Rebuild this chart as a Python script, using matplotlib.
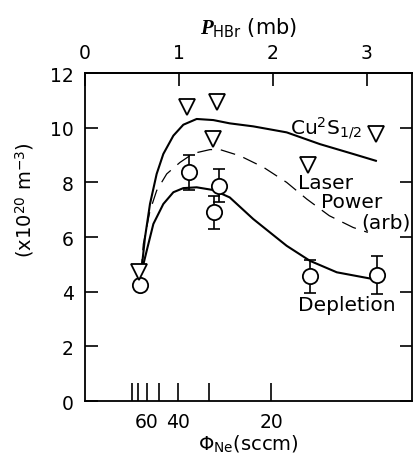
import numpy as np
import matplotlib
matplotlib.use("Agg")
import matplotlib.pyplot as plt

plt.rcParams.update({
    "font.family": "DejaVu Sans",
    "font.size": 13.5,
    "mathtext.fontset": "custom",
    "mathtext.rm": "DejaVu Sans",
    "mathtext.it": "Liberation Serif:italic:bold",
    "mathtext.bf": "DejaVu Sans:bold",
    "axes.linewidth": 1.3,
})

# ---- data (x in P_HBr, mb) ----
P_tri = [0.574, 1.088, 1.407, 1.365, 2.376, 3.10]
y_tri = [4.73, 10.75, 10.95, 9.59, 8.62, 9.78]

P_circ = [0.585, 1.106, 1.426, 1.372, 2.394, 3.103]
y_circ = [4.24, 8.37, 7.88, 6.90, 4.56, 4.61]
y_err = [0.0, 0.65, 0.60, 0.60, 0.60, 0.68]

P_cu = [0.596, 0.638, 0.691, 0.762, 0.833, 0.94, 1.046, 1.188, 1.365, 1.54,
        1.79, 2.146, 2.50, 2.854, 3.096]
y_cu = [4.65, 5.99, 7.21, 8.31, 9.04, 9.71, 10.11, 10.32, 10.28, 10.16,
        10.05, 9.83, 9.40, 9.04, 8.79]

P_laser = [0.596, 0.62, 0.691, 0.762, 0.869, 1.01, 1.152, 1.33, 1.436, 1.65,
           1.90, 2.146, 2.36, 2.60, 2.854, 3.01]
y_laser = [4.65, 5.74, 6.96, 7.70, 8.31, 8.73, 9.06, 9.20, 9.20, 8.97,
           8.55, 8.00, 7.39, 6.78, 6.35, 6.17]

P_depl = [0.596, 0.656, 0.727, 0.833, 0.94, 1.046, 1.188, 1.365, 1.54, 1.79,
          2.146, 2.394, 2.68, 3.07]
y_depl = [4.65, 5.50, 6.48, 7.21, 7.64, 7.79, 7.82, 7.72, 7.45, 6.66,
          5.68, 5.13, 4.71, 4.46]

# Ne flow axis: P_HBr = K / phi
K_FLOW = 39.6
phi_ticks = [80, 70, 60, 50, 40, 30, 20]
phi_labels = ["", "", "60", "", "40", "", "20"]

top_ticks = [0, 1, 2, 3]
y_ticks = [0, 2, 4, 6, 8, 10, 12]

fig = plt.figure(figsize=(4.13, 4.60), dpi=100)
ax = fig.add_axes([0.206, 0.126, 0.7915, 0.713])

ax.plot(P_cu, y_cu, "-", color="black", lw=1.5, zorder=2)
ax.plot(P_laser, y_laser, "--", color="black", lw=0.9, dashes=(12, 7), zorder=2)
ax.plot(P_depl, y_depl, "-", color="black", lw=1.5, zorder=2)

mask = np.array(y_err) > 0
ax.errorbar(np.array(P_circ)[mask], np.array(y_circ)[mask],
            yerr=np.array(y_err)[mask], fmt="none", ecolor="black",
            elinewidth=1.2, capsize=4, capthick=1.2, zorder=3)
ax.plot(P_circ, y_circ, "o", ms=11, mfc="white", mec="black", mew=1.3,
        zorder=4)
ax.plot(P_tri, y_tri, "v", ms=11, mfc="white", mec="black", mew=1.3,
        zorder=4)

fs_note = 14.5
ax.text(2.18, 10.04, r"Cu$^{2}$S$_{1/2}$", ha="left", va="center", fontsize=fs_note)
ax.text(2.27, 8.0, "Laser", ha="left", va="center", fontsize=fs_note)
ax.text(2.51, 7.3, "Power", ha="left", va="center", fontsize=fs_note)
ax.text(2.94, 6.55, "(arb)", ha="left", va="center", fontsize=fs_note)
ax.text(2.27, 3.55, "Depletion", ha="left", va="center", fontsize=fs_note)

ax.set_xlim(0, 3.48)
ax.set_ylim(0, 12)
ax.set_yticks(y_ticks)
ax.tick_params(axis="y", which="both", direction="in", length=9, width=1.2,
               right=True, pad=8)

ax.set_xticks([K_FLOW / f for f in phi_ticks])
ax.set_xticklabels(phi_labels)
ax.tick_params(axis="x", direction="in", length=13, width=1.2, pad=8, top=False)
ax.set_xlabel(r"Φ$_{\mathrm{Ne}}$(sccm)", labelpad=1, fontsize=14)

sec = ax.secondary_xaxis("top")
sec.set_xticks(top_ticks)
sec.tick_params(direction="in", length=9, width=1.2, pad=8)
sec.set_xlabel(r"$P_{\mathrm{HBr}}$ (mb)", labelpad=7, fontsize=15)

ax.set_ylabel(r"(x10$^{20}$ m$^{-3}$)", fontsize=14)
ax.yaxis.set_label_coords(-0.15, 0.615)

fig.savefig("out.png", dpi=100)
